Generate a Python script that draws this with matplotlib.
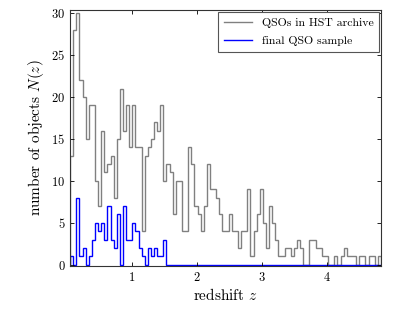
import numpy as np
import matplotlib
matplotlib.use("Agg")
import matplotlib.pyplot as plt

plt.rcParams['font.family'] = ['cmr10', 'DejaVu Serif']
plt.rcParams['mathtext.fontset'] = 'cm'
plt.rcParams['axes.formatter.use_mathtext'] = True

# histogram bin edges (redshift)
z_min, z_max, n_bins = 0.045, 4.84, 100

hst_counts = [13, 28, 30, 22, 20, 15, 19, 19, 10, 7,
              16, 11, 12, 13, 8, 15, 21, 16, 19, 14,
              19, 14, 14, 4, 13, 14, 15, 17, 16, 19,
              10, 12, 11, 6, 10, 10, 4, 4, 14, 12,
              7, 6, 4, 7, 12, 9, 9, 8, 6, 4,
              4, 6, 4, 4, 2, 4, 4, 9, 1, 4,
              6, 9, 5, 2, 7, 5, 3, 1, 1, 2,
              2, 1, 2, 3, 2, 0, 0, 3, 3, 2,
              2, 1, 1, 0, 0, 1, 0, 1, 2, 1,
              1, 1, 0, 1, 1, 0, 1, 1, 0, 1]

final_counts = [1, 0, 8, 1, 2, 0, 1, 3, 5, 4,
                5, 3, 7, 3, 2, 6, 0, 7, 3, 3,
                5, 4, 2, 1, 0, 2, 1, 2, 1, 1,
                3] + [0] * 69

edges = np.linspace(z_min, z_max, n_bins + 1)

fig = plt.figure(figsize=(4.15, 3.12), dpi=100)
ax = fig.add_axes([0.169, 0.147, 0.749, 0.821])

ax.stairs(hst_counts, edges, color='#808080', lw=1.0, label='QSOs in HST archive')
ax.stairs(final_counts, edges, color='#0000ff', lw=1.0, label='final QSO sample')

ax.set_xlim(edges[0], edges[-1])
ax.set_ylim(-0.15, 30.35)
ax.set_xticks([1, 2, 3, 4])
ax.set_yticks([0, 5, 10, 15, 20, 25, 30])
ax.tick_params(direction='in', top=True, right=True, labelsize=9, length=3, width=0.6)
for s in ax.spines.values():
    s.set_linewidth(0.8)
    s.set_color('#333333')

ax.set_xlabel('redshift $z$', fontsize=11, labelpad=2)
ax.set_ylabel('number of objects $N(z)$', fontsize=11, labelpad=4)

leg = ax.legend(loc='upper right', fontsize=8.5, frameon=True, fancybox=False,
                edgecolor='#555555', framealpha=1, borderaxespad=0.15,
                handlelength=2.4, labelspacing=0.65, borderpad=0.5)
leg.get_frame().set_linewidth(0.8)

fig.savefig('out.png', dpi=100)
